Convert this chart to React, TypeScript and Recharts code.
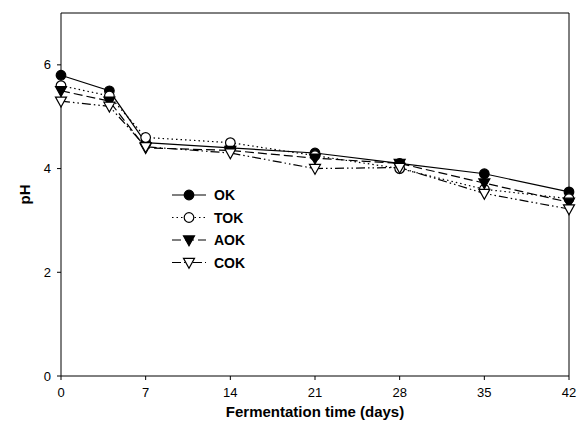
import { LineChart, Line, XAxis, YAxis, ReferenceLine } from 'recharts';

const days = [0, 4, 7, 14, 21, 28, 35, 42];
const okValues = [5.8, 5.5, 4.5, 4.4, 4.3, 4.1, 3.9, 3.55];
const tokValues = [5.6, 5.4, 4.6, 4.5, 4.25, 4.0, 3.6, 3.42];
const aokValues = [5.5, 5.3, 4.4, 4.35, 4.2, 4.1, 3.72, 3.35];
const cokValues = [5.3, 5.2, 4.42, 4.3, 4.0, 4.02, 3.52, 3.22];

const xTicks = [0, 7, 14, 21, 28, 35, 42];
const yTicks = [0, 2, 4, 6];

const chartData = days.map((d, i) => ({
  day: d,
  OK: okValues[i],
  TOK: tokValues[i],
  AOK: aokValues[i],
  COK: cokValues[i],
}));

type Shape = 'circleFilled' | 'circleOpen' | 'triFilled' | 'triOpen';

const SERIES: { key: string; shape: Shape; dash?: string }[] = [
  { key: 'OK', shape: 'circleFilled' },
  { key: 'TOK', shape: 'circleOpen', dash: '1.5 3' },
  { key: 'AOK', shape: 'triFilled', dash: '9 4' },
  { key: 'COK', shape: 'triOpen', dash: '9 3 1.5 3 1.5 3' },
];

const FONT = 'Liberation Sans, Arial, sans-serif';

function Marker({ cx, cy, shape }: { cx: number; cy: number; shape: Shape }) {
  if (cx == null || cy == null) return null;
  if (shape === 'circleFilled' || shape === 'circleOpen') {
    return (
      <circle
        cx={cx}
        cy={cy}
        r={4.8}
        fill={shape === 'circleFilled' ? '#000' : '#fff'}
        stroke="#000"
        strokeWidth={1.2}
      />
    );
  }
  const s = 5.5;
  const pts = `${cx - s},${cy - s * 0.75} ${cx + s},${cy - s * 0.75} ${cx},${cy + s * 1.05}`;
  return (
    <polygon
      points={pts}
      fill={shape === 'triFilled' ? '#000' : '#fff'}
      stroke="#000"
      strokeWidth={1.2}
    />
  );
}

// legend drawn as an overlay so it doesn't eat into the plot height
const LegendBox = () => (
  <svg width={120} height={90} style={{ position: 'absolute', left: 170, top: 187 }}>
    {SERIES.map((s, i) => {
      const y = 8 + i * 22.5;
      return (
        <g key={s.key}>
          <line x1={2} y1={y} x2={36} y2={y} stroke="#000" strokeWidth={1.2} strokeDasharray={s.dash} />
          <Marker cx={19} cy={y} shape={s.shape} />
          <text x={44} y={y + 5} fontFamily={FONT} fontWeight="bold" fontSize={14} fill="#000">
            {s.key}
          </text>
        </g>
      );
    })}
  </svg>
);

const tickStyle = { fontFamily: FONT, fontSize: 13, fill: '#000' };

export default function App() {
  return (
    <div style={{ position: 'absolute', left: 0, top: 0, width: 583, height: 437, background: '#fff' }}>
      <LineChart
        width={583}
        height={437}
        data={chartData}
        margin={{ top: 13, right: 14, left: 0, bottom: 0 }}
      >
        <XAxis
          dataKey="day"
          type="number"
          domain={[0, 42]}
          ticks={xTicks}
          height={61}
          tick={tickStyle}
          tickSize={4}
          tickMargin={8}
          stroke="#000"
          label={{
            value: 'Fermentation time (days)',
            position: 'insideBottom',
            offset: 20,
            style: { fontFamily: FONT, fontWeight: 'bold', fontSize: 15, fill: '#000' },
          }}
        />
        <YAxis
          type="number"
          domain={[0, 7]}
          ticks={yTicks}
          width={61}
          tick={tickStyle}
          tickSize={4}
          tickMargin={6}
          stroke="#000"
          label={{
            value: 'pH',
            angle: -90,
            position: 'insideLeft',
            offset: 25,
            style: { fontFamily: FONT, fontWeight: 'bold', fontSize: 15, fill: '#000', textAnchor: 'middle' },
          }}
        />
        <ReferenceLine y={7} stroke="#000" strokeWidth={1} />
        <ReferenceLine x={42} stroke="#000" strokeWidth={1} />
        {SERIES.map((s) => (
          <Line
            key={s.key}
            dataKey={s.key}
            stroke="#000"
            strokeWidth={1.2}
            strokeDasharray={s.dash}
            isAnimationActive={false}
            dot={(p: any) => <Marker key={`${s.key}-${p.index}`} cx={p.cx} cy={p.cy} shape={s.shape} />}
            activeDot={false}
          />
        ))}
      </LineChart>
      <LegendBox />
    </div>
  );
}
